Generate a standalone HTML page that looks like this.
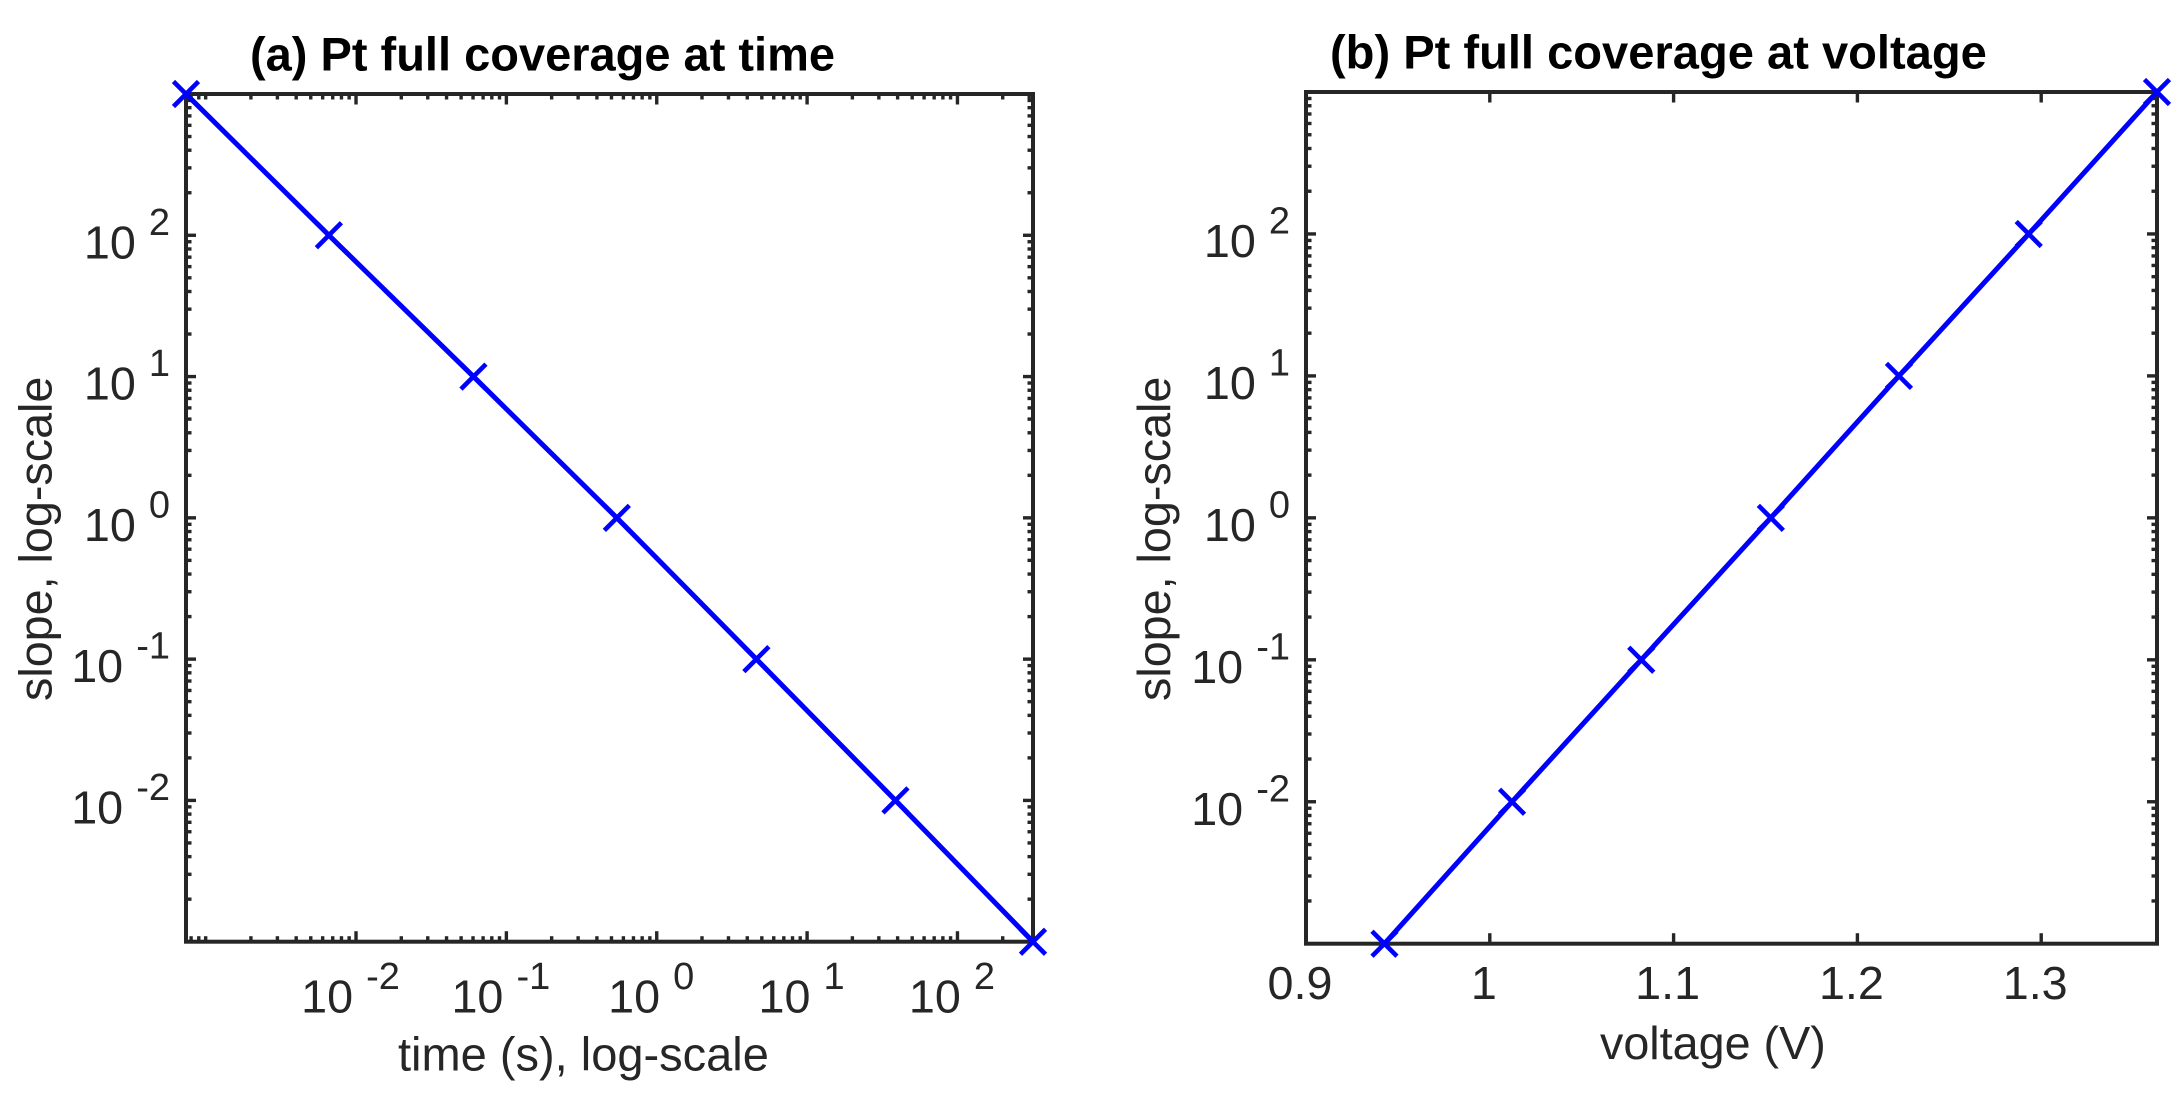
<!DOCTYPE html>
<html>
<head>
<meta charset="utf-8">
<title>Pt full coverage</title>
<style>
html,body{margin:0;padding:0;background:#fff;}
svg{display:block;}
text{font-family:"Liberation Sans",Arial,sans-serif;fill:#262626;}
</style>
</head>
<body>
<svg id="figure" width="2183" height="1101" viewBox="0 0 2183 1101" xmlns="http://www.w3.org/2000/svg">
<rect width="2183" height="1101" fill="#fff"/>
</svg>
<script>
// Panel (a) data
const timeValues = [0.00074, 0.0066, 0.0604, 0.543, 4.6, 38.7, 318];
const slopeValuesA = [1000, 100, 10, 1, 0.1, 0.01, 0.001];
// Panel (b) data
const voltageValues = [0.9427, 1.0121, 1.0824, 1.1529, 1.2226, 1.2932, 1.363];
const slopeValuesB = [0.001, 0.01, 0.1, 1, 10, 100, 1000];
// Tick labels
const logYTickExponents = [2, 1, 0, -1, -2];
const logXTickExponents = [-2, -1, 0, 1, 2];
const voltageTicks = [0.9, 1, 1.1, 1.2, 1.3];
const voltageTickLabels = ["0.9", "1", "1.1", "1.2", "1.3"];

const svg = document.getElementById('figure');
const NS = 'http://www.w3.org/2000/svg';
const INK = '#262626';

function make(parent, tag, props) {
  const e = document.createElementNS(NS, tag);
  for (const k in props) e.setAttribute(k, props[k]);
  parent.appendChild(e);
  return e;
}
function logScale(d0, d1, r0, r1) {
  return v => r0 + (Math.log10(v) - Math.log10(d0)) / (Math.log10(d1) - Math.log10(d0)) * (r1 - r0);
}
function linScale(d0, d1, r0, r1) {
  return v => r0 + (v - d0) / (d1 - d0) * (r1 - r0);
}
function tickLine(g, x1, y1, x2, y2, name) {
  const t = make(g, 'line', {x1: x1, y1: y1, x2: x2, y2: y2, stroke: INK, 'stroke-width': 3.4});
  
  
}
function addText(g, x, y, str, size, name, weight, fill) {
  const t = make(g, 'text', {x: x, y: y, 'font-size': size});
  if (weight) t.setAttribute('font-weight', weight);
  if (fill) t.style.fill = fill;
  t.textContent = str;
  
  
  return t;
}
// Draws a "10 ^exp" label; positioned using the measured exponent width
function powerLabel(g, anchorMode, px, py, exp, name) {
  const ten = addText(g, 0, 0, '10', 46.7, name + '-base');
  const sup = addText(g, 0, 0, String(exp), 38, name + '-exponent');
  const w = sup.getComputedTextLength();
  let tenX, tenY, supY;
  if (anchorMode === 'y') {
    tenX = px - 16 - w - 65;
    tenY = py + 23;
    supY = py - 0.5;
  } else {
    tenX = px - (65 + w) / 2 - 5.5;
    tenY = py;
    supY = py - 23.7;
  }
  ten.setAttribute('x', tenX);
  ten.setAttribute('y', tenY);
  sup.setAttribute('x', tenX + 65);
  sup.setAttribute('y', supY);
}
function logYTicks(g, y, left, right, lo, hi) {
  for (let d = lo; d < hi; d++) {
    const major = Math.pow(10, d);
    if (d > lo) {
      tickLine(g, left, y(major), left + 10, y(major), 'y-major-tick-left');
      tickLine(g, right, y(major), right - 10, y(major), 'y-major-tick-right');
    }
    for (let m = 2; m <= 9; m++) {
      const py = y(m * major);
      tickLine(g, left, py, left + 5.5, py, 'y-minor-tick-left');
      tickLine(g, right, py, right - 5.5, py, 'y-minor-tick-right');
    }
  }
}
function drawSeries(g, xs, ys, x, y, name) {
  const series = make(g, 'g', {});
  
  
  const pts = xs.map((v, i) => x(v).toFixed(2) + ',' + y(ys[i]).toFixed(2)).join(' ');
  const line = make(series, 'polyline', {points: pts, fill: 'none', stroke: '#0000ff', 'stroke-width': 5});
  
  
  xs.forEach((v, i) => {
    const cx = x(v), cy = y(ys[i]), r = 12.5;
    const mark = make(series, 'path', {
      d: 'M' + (cx - r) + ' ' + (cy - r) + 'L' + (cx + r) + ' ' + (cy + r) + 'M' + (cx - r) + ' ' + (cy + r) + 'L' + (cx + r) + ' ' + (cy - r),
      fill: 'none', stroke: '#0000ff', 'stroke-width': 4.6
    });
    
    
  });
}

/* ---------- Panel (a) ---------- */
(function () {
  const L = 186, R = 1033, T = 94, B = 941.7;
  const g = make(svg, 'g', {});
  
  
  const x = logScale(timeValues[0], timeValues[timeValues.length - 1], L, R);
  const y = logScale(0.001, 1000, B, T);

  logYTicks(g, y, L, R, -3, 3);
  for (let d = -4; d <= 2; d++) {
    const major = Math.pow(10, d);
    if (d >= -2) {
      tickLine(g, x(major), T, x(major), T + 10.5, 'x-major-tick-top');
      tickLine(g, x(major), B, x(major), B - 10.5, 'x-major-tick-bottom');
    } else if (d === -3) {
      // 10^-3 is unlabelled and drawn at minor length
      tickLine(g, x(major), T, x(major), T + 5.5, 'x-minor-tick-top');
      tickLine(g, x(major), B, x(major), B - 5.5, 'x-minor-tick-bottom');
    }
    for (let m = 2; m <= 9; m++) {
      const v = m * major;
      if (v <= timeValues[0] || v >= timeValues[timeValues.length - 1]) continue;
      tickLine(g, x(v), T, x(v), T + 5.5, 'x-minor-tick-top');
      tickLine(g, x(v), B, x(v), B - 5.5, 'x-minor-tick-bottom');
    }
  }
  const frame = make(g, 'rect', {x: L, y: T, width: R - L, height: B - T, fill: 'none', stroke: INK, 'stroke-width': 4});
  
  

  logYTickExponents.forEach(e => powerLabel(g, 'y', L, y(Math.pow(10, e)), e, 'y-tick-label-a'));
  logXTickExponents.forEach(e => powerLabel(g, 'x', x(Math.pow(10, e)), 1012.7, e, 'x-tick-label-a'));

  addText(g, 250, 70.7, '(a) Pt full coverage at time', 47, 'title-a', 'bold', '#000');
  addText(g, 398, 1070.7, 'time (s), log-scale', 47, 'x-axis-title-a');
  const yl = addText(g, 0, 0, 'slope, log-scale', 46.7, 'y-axis-title-a');
  yl.setAttribute('transform', 'translate(51.3,701) rotate(-90)');

  drawSeries(g, timeValues, slopeValuesA, x, y, 'series-a');
})();

/* ---------- Panel (b) ---------- */
(function () {
  const L = 1306, R = 2157, T = 92, B = 943.7;
  const g = make(svg, 'g', {});
  
  
  const x = linScale(0.9, voltageValues[voltageValues.length - 1], L, R);
  const y = logScale(0.001, 1000, B, T);

  logYTicks(g, y, L, R, -3, 3);
  voltageTicks.forEach((v, i) => {
    if (i > 0) {
      tickLine(g, x(v), T, x(v), T + 10.5, 'x-tick-top');
      tickLine(g, x(v), B, x(v), B - 10.5, 'x-tick-bottom');
    }
    const t = addText(g, x(v) - 6, 999, voltageTickLabels[i], 46.7, 'x-tick-label-b');
    t.setAttribute('text-anchor', 'middle');
  });
  const frame = make(g, 'rect', {x: L, y: T, width: R - L, height: B - T, fill: 'none', stroke: INK, 'stroke-width': 4});
  
  

  logYTickExponents.forEach(e => powerLabel(g, 'y', L, y(Math.pow(10, e)), e, 'y-tick-label-b'));

  addText(g, 1330, 68.3, '(b) Pt full coverage at voltage', 47.1, 'title-b', 'bold', '#000');
  addText(g, 1600, 1059, 'voltage (V)', 46.7, 'x-axis-title-b');
  const yl = addText(g, 0, 0, 'slope, log-scale', 46.7, 'y-axis-title-b');
  yl.setAttribute('transform', 'translate(1170,701) rotate(-90)');

  drawSeries(g, voltageValues, slopeValuesB, x, y, 'series-b');
})();
</script>
</body>
</html>
